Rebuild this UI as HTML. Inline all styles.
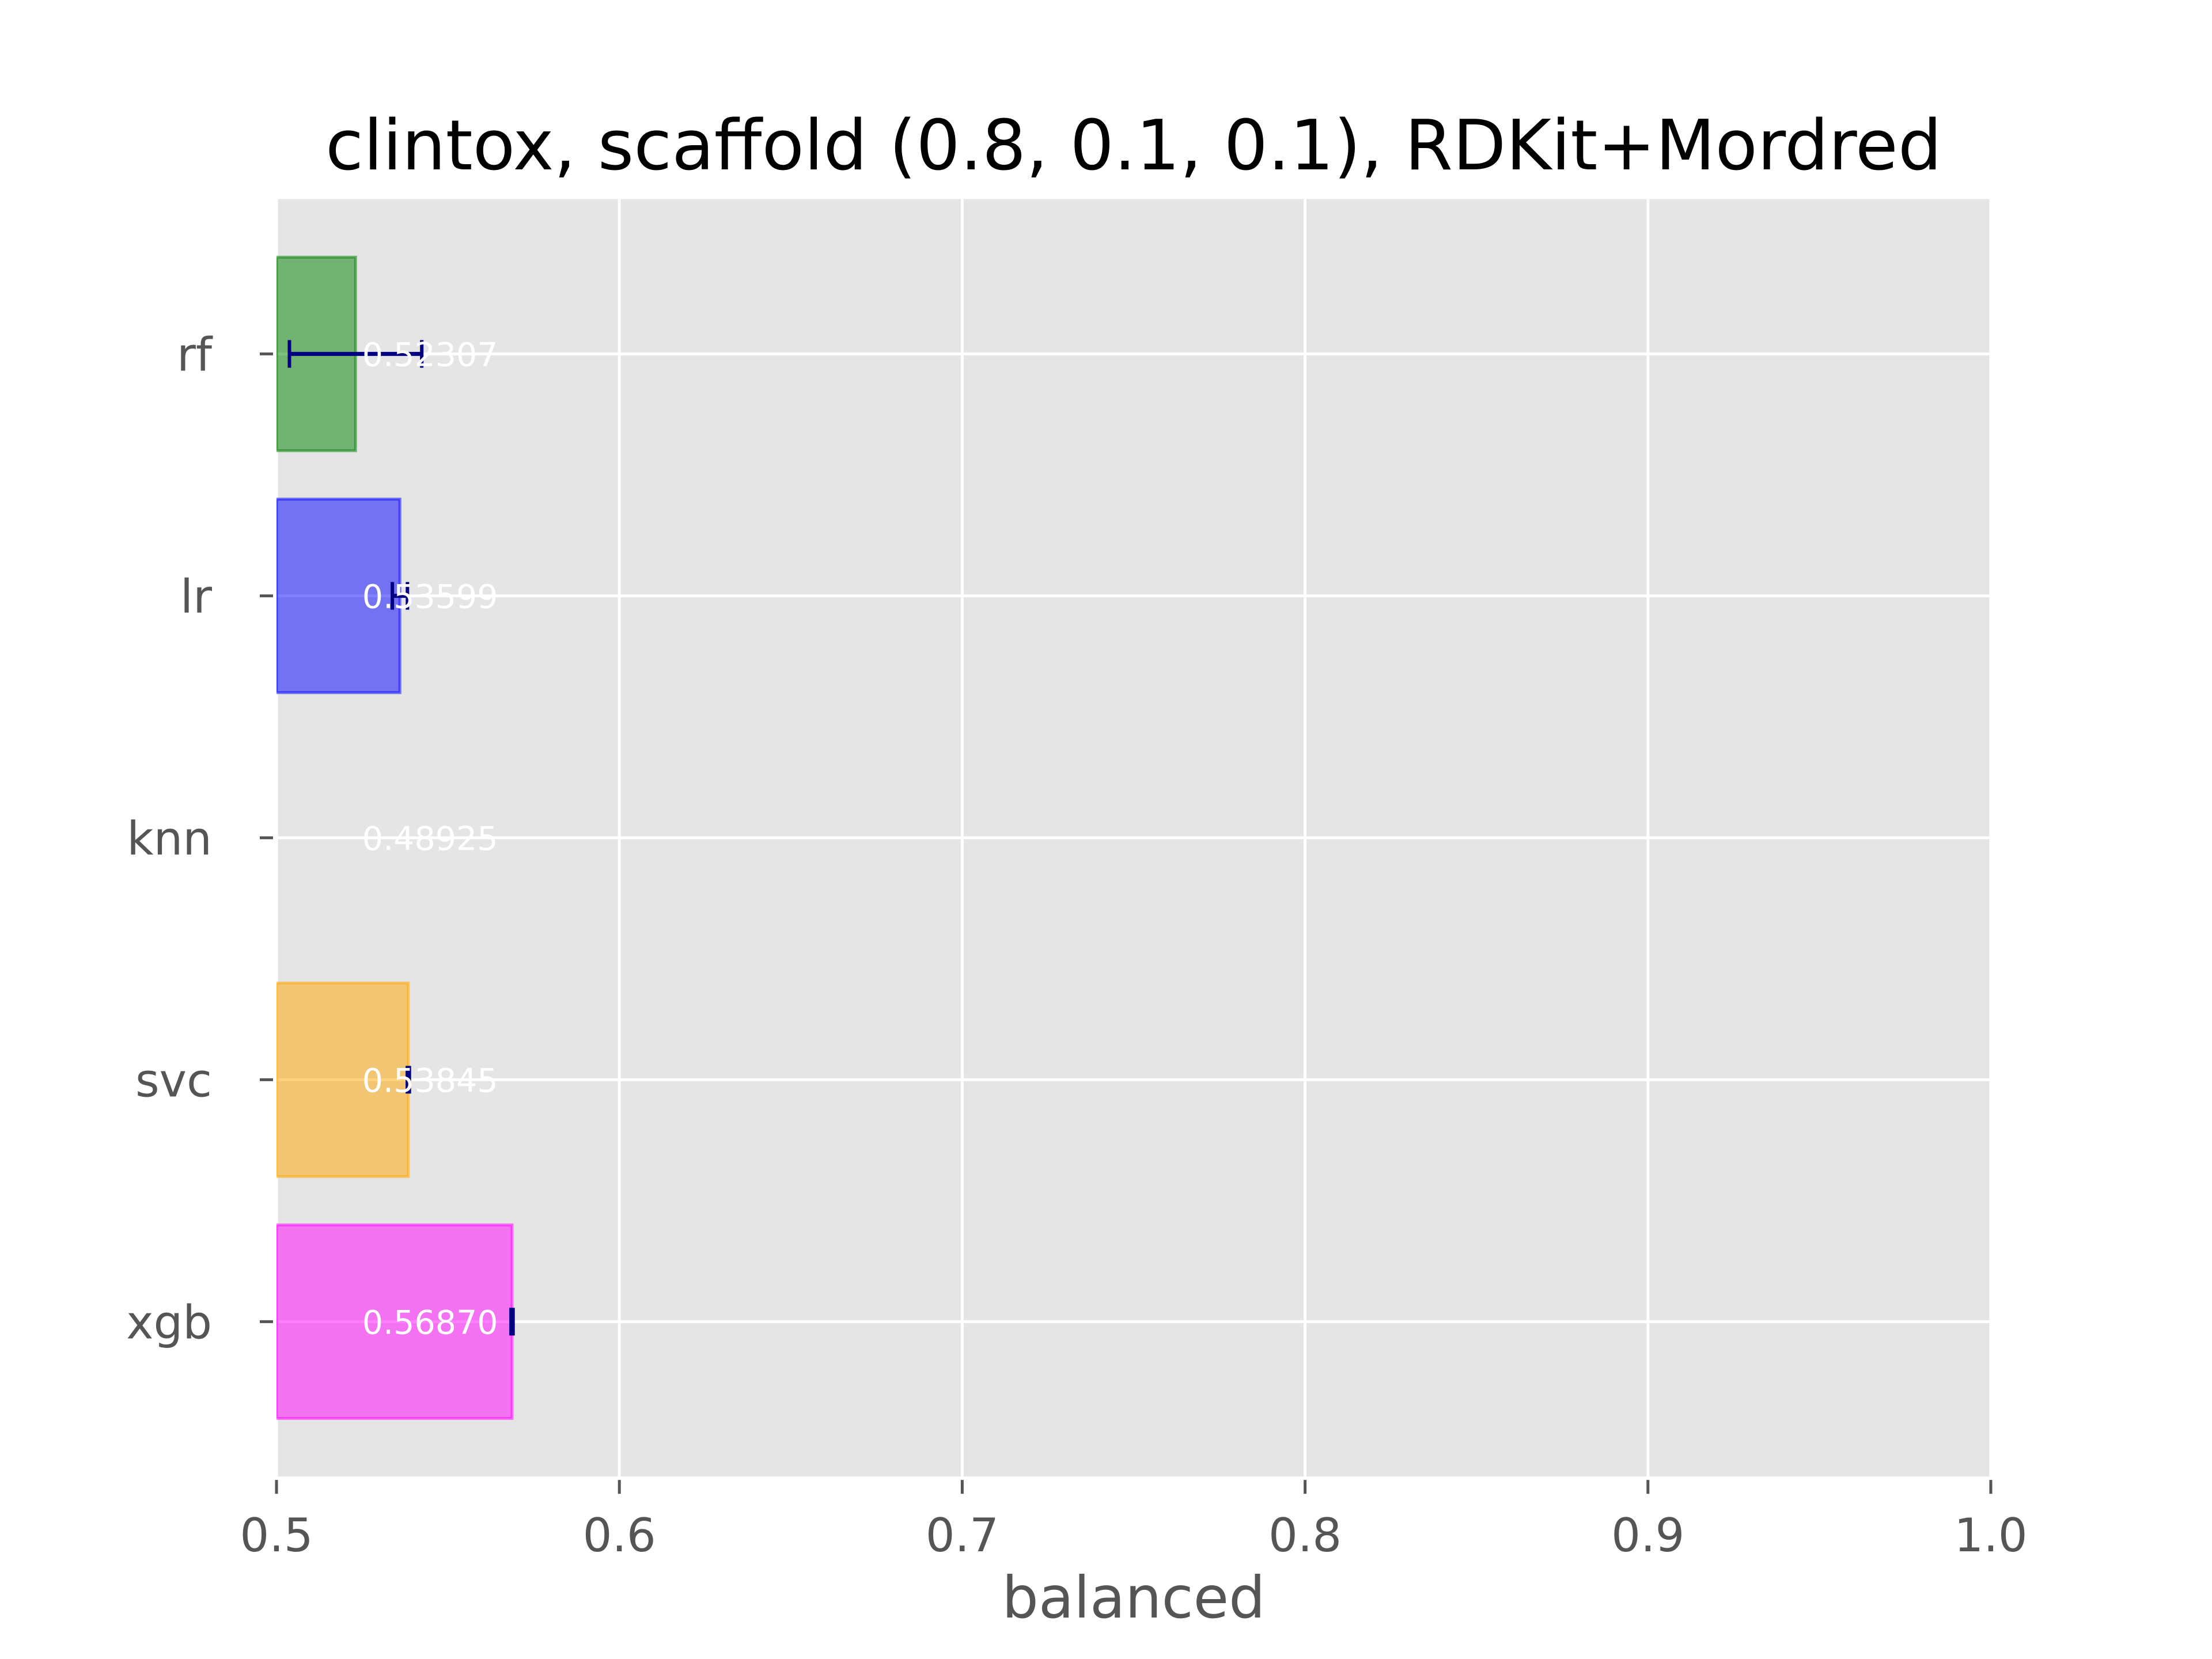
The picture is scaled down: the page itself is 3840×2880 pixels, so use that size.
<!DOCTYPE html>
<html><head><meta charset="utf-8"><style>
html,body{margin:0;padding:0;background:#fff;}
svg{display:block;font-family:"DejaVu Sans","Liberation Sans",sans-serif;}
</style></head><body>
<svg id="chart" width="3840" height="2880" viewBox="0 0 3840 2880" xmlns="http://www.w3.org/2000/svg">
<defs><clipPath id="pc"><rect x="480" y="345.6" width="2976" height="2217.6"/></clipPath></defs>
<rect x="0" y="0" width="3840" height="2880" fill="#fff"/>
<rect x="480" y="345.6" width="2976" height="2217.6" fill="#e5e5e5"/>
<g id="grid"></g><g id="bars" clip-path="url(#pc)"></g><g id="errs" clip-path="url(#pc)"></g><g id="labels"></g><g id="axes"></g>
<text x="1968" y="294" font-size="120" text-anchor="middle" fill="#000">clintox, scaffold (0.8, 0.1, 0.1), RDKit+Mordred</text>
<text x="1968" y="2808" font-size="100" text-anchor="middle" fill="#555">balanced</text>
</svg>
<script>
const categories = ["xgb", "svc", "knn", "lr", "rf"];
const values = [0.56870, 0.53845, 0.48925, 0.53599, 0.52307];
const errors = [0.0003, 0.0003, 0, 0.0022, 0.0193];
const valueLabels = ["0.56870", "0.53845", "0.48925", "0.53599", "0.52307"];
const xTicks = [0.5, 0.6, 0.7, 0.8, 0.9, 1.0];
const xTickLabels = ["0.5", "0.6", "0.7", "0.8", "0.9", "1.0"];
const colors = ["#ff00ff", "#ffa500", "#ff0000", "#0000ff", "#008000"];

const L=480,R=3456,T=345.6,B=2563.2,xmin=0.5,xmax=1.0,ymin=-0.64,ymax=4.64;
const sx=v=>L+(v-xmin)/(xmax-xmin)*(R-L);
const sy=i=>T+(ymax-i)/(ymax-ymin)*(B-T);
const NS="http://www.w3.org/2000/svg";
function mk(tag,attrs,parent){const e=document.createElementNS(NS,tag);for(const k in attrs)e.setAttribute(k,attrs[k]);document.getElementById(parent).appendChild(e);return e;}

xTicks.forEach((t,i)=>{
  const g=mk('line',{x1:sx(t),x2:sx(t),y1:T,y2:B,stroke:'#fff','stroke-width':5},'grid');
  
  
  const tk=mk('line',{x1:sx(t),x2:sx(t),y1:B+6,y2:B+30,stroke:'#555','stroke-width':5},'axes');
  
  
  const tl=mk('text',{x:sx(t),y:B+130,'font-size':80,'text-anchor':'middle',fill:'#555'},'axes');
  tl.textContent=xTickLabels[i];
  
  
});
categories.forEach((c,i)=>{
  const y=sy(i);
  const g=mk('line',{x1:L,x2:R,y1:y,y2:y,stroke:'#fff','stroke-width':5},'grid');
  
  
  const tk=mk('line',{x1:451,x2:474,y1:y,y2:y,stroke:'#555','stroke-width':5},'axes');
  
  
  const tl=mk('text',{x:368,y:y+29,'font-size':80,'text-anchor':'end',fill:'#555'},'axes');
  tl.textContent=c;
  
  
  const x0=sx(xmin),x1=sx(values[i]);
  if(x1>x0){
    const b=mk('rect',{x:x0,y:sy(i+0.4),width:x1-x0,height:sy(i-0.4)-sy(i+0.4),fill:colors[i],'fill-opacity':0.5,stroke:colors[i],'stroke-opacity':0.5,'stroke-width':5},'bars');
    
    
  }
  if(values[i]>=xmin){
    const lo=sx(values[i]-errors[i]),hi=sx(values[i]+errors[i]);
    const e=mk('line',{x1:lo,x2:hi,y1:y,y2:y,stroke:'#000080','stroke-width':7},'errs');
    
    
    [lo,hi].forEach(xx=>{
      const cp=mk('line',{x1:xx,x2:xx,y1:y-24,y2:y+24,stroke:'#000080','stroke-width':6},'errs');
      
      
    });
  }
  const vl=mk('text',{x:sx(0.525),y:y+21,'font-size':57,fill:'#fff'},'labels');
  vl.textContent=valueLabels[i];
  
  
});
</script>
</body></html>
